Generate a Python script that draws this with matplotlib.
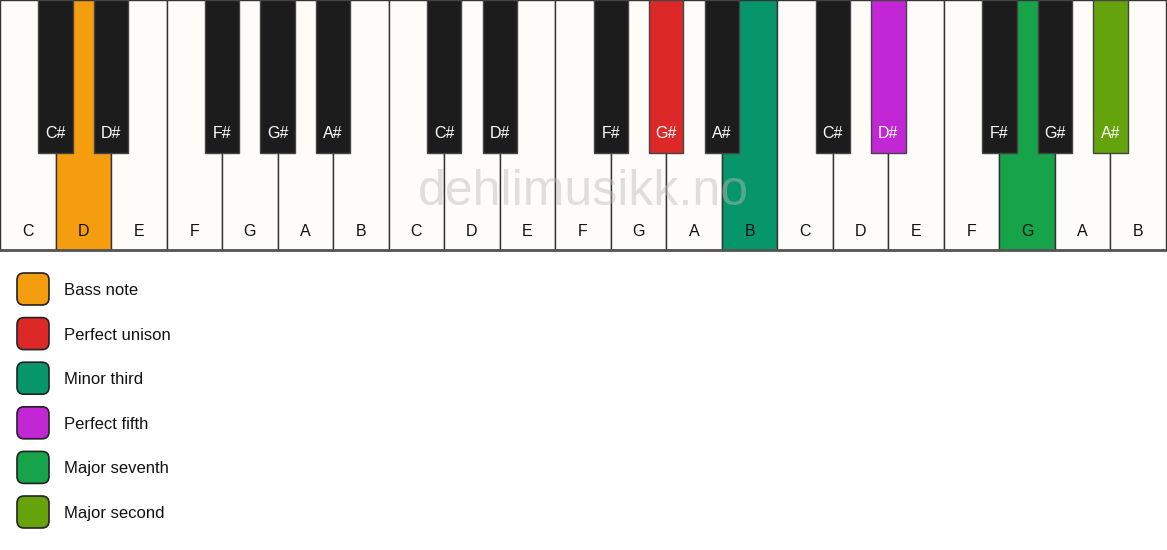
import matplotlib.pyplot as plt
from matplotlib.patches import Rectangle, FancyBboxPatch

plt.rcParams['font.family'] = ['Liberation Sans', 'DejaVu Sans']

# keyboard data
white_names = ['C', 'D', 'E', 'F', 'G', 'A', 'B']
black_names = ['C#', 'D#', 'F#', 'G#', 'A#']
black_after = [0, 1, 3, 4, 5]   # black key sits right of these white keys
n_octaves = 3

# highlighted keys: (kind, index in keyboard) -> colour
white_marks = {1: '#f49d0e', 13: '#06966a', 18: '#17a34a'}
black_marks = {8: '#dd2828', 11: '#c127d4', 14: '#65a30d'}

legend_labels = ['Bass note', 'Perfect unison', 'Minor third', 'Perfect fifth',
                 'Major seventh', 'Major second']
legend_colors = ['#f49d0e', '#dd2828', '#06966a', '#c127d4', '#17a34a', '#65a30d']

W, H = 1167, 550
fig = plt.figure(figsize=(W / 100, H / 100), dpi=100)
ax = fig.add_axes([0, 0, 1, 1])
ax.set_xlim(0, W)
ax.set_ylim(H, 0)
ax.axis('off')

n_white = 7 * n_octaves
ww = (W - 1) / n_white
wh = 250
bw = ww * 0.62
bh = 153

for i in range(n_white):
    fc = white_marks.get(i, '#fdfcf9')
    ax.add_patch(Rectangle((i * ww, 0), ww, wh, facecolor=fc, edgecolor='#333333', lw=1.0))
    ax.text(i * ww + ww / 2, 231, white_names[i % 7], ha='center', va='center',
            fontsize=11.5, color='#111111')
ax.plot([0, W], [wh, wh], color='#555555', lw=2)

k = 0
for o in range(n_octaves):
    for j, pos in enumerate(black_after):
        cx = (o * 7 + pos + 1) * ww
        fc = black_marks.get(k, '#1c1c1c')
        ax.add_patch(Rectangle((cx - bw / 2, 0), bw, bh, facecolor=fc,
                               edgecolor='#444444', lw=1.0, zorder=3))
        ax.text(cx, 133, black_names[j], ha='center', va='center', fontsize=11.5,
                color='white', zorder=4)
        k += 1

ax.text(W / 2, 192, 'dehlimusikk.no', ha='center', va='center', fontsize=36,
        color='#bbbbbb', alpha=0.45, zorder=5)

for i, (lab, c) in enumerate(zip(legend_labels, legend_colors)):
    y = 289 + i * 44.6
    ax.add_patch(FancyBboxPatch((17, y - 16), 32, 32, boxstyle='round,pad=0,rounding_size=7',
                                facecolor=c, edgecolor='#222222', lw=1.2))
    ax.text(64, y + 1.5, lab, ha='left', va='center', fontsize=12, color='#111111')

fig.savefig('out.png', dpi=100, facecolor='white')
